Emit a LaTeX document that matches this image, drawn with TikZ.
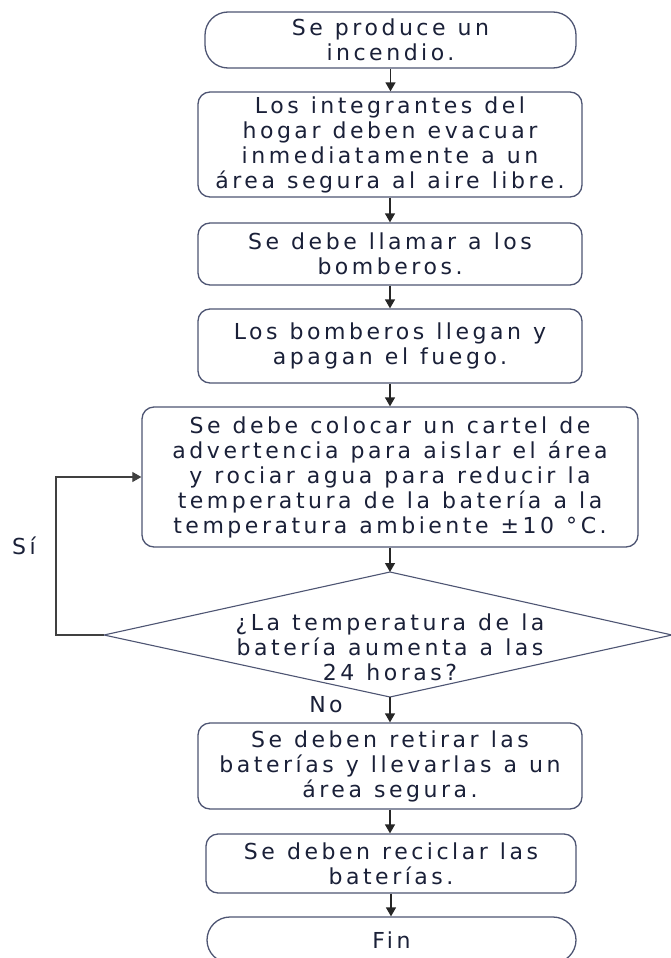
\documentclass[tikz,border=0pt]{standalone}
\usepackage{fontspec}
\setmainfont[LetterSpace=16,WordSpace=1.15]{DejaVu Sans}
\usetikzlibrary{arrows.meta,shapes.geometric}
\definecolor{txt}{HTML}{1A2038}
\definecolor{edge}{HTML}{4E5573}
\tikzset{
  every node/.style={font=\fontsize{22}{25}\selectfont, text=txt},
  procbox/.style={draw=edge, line width=1.3pt, rounded corners=12pt, align=center, inner sep=0pt},
  termbox/.style={draw=edge, line width=1.3pt, rounded corners=23pt, align=center, inner sep=0pt},
  arr/.style={draw=black!85, line width=1.3pt, -{Triangle[length=9pt,width=10pt]}},
  loopline/.style={draw=black!75, line width=1.1pt, -{Triangle[length=9pt,width=10pt]}},
}
\begin{document}
\begin{tikzpicture}[x=1pt,y=-1pt]
\useasboundingbox (0,0) rectangle (670,958);
\fill[white] (0,0) rectangle (670,958);

\node[termbox, minimum width=371pt, minimum height=56pt] (t1) at (390.5,40) {Se produce un\\incendio.};
\node[procbox, minimum width=384pt, minimum height=105pt] (b2) at (390,144.5) {Los integrantes del\\hogar deben evacuar\\inmediatamente a un\\área segura al aire libre.};
\node[procbox, minimum width=384pt, minimum height=62pt] (b3) at (390,254) {Se debe llamar a los\\bomberos.};
\node[procbox, minimum width=384pt, minimum height=74pt] (b4) at (390,346) {Los bomberos llegan y\\apagan el fuego.};
\node[procbox, minimum width=496pt, minimum height=140pt] (b5) at (390,477) {Se debe colocar un cartel de\\advertencia para aislar el área\\y rociar agua para reducir la\\temperatura de la batería a la\\temperatura ambiente ±10 °C.};

\coordinate (dtop) at (390,572);
\coordinate (dleft) at (104,635);
\coordinate (dbot) at (390,697);
\coordinate (dright) at (672,635);
\draw[edge, line width=1.1pt] (dtop) -- (dright) -- (dbot) -- (dleft) -- cycle;
\node[align=center, inner sep=0pt] (dq) at (390,647) {¿La temperatura de la\\batería aumenta a las\\24 horas?};

\node[procbox, minimum width=384pt, minimum height=86pt] (b6) at (390,766) {Se deben retirar las\\baterías y llevarlas a un\\área segura.};
\node[procbox, minimum width=370pt, minimum height=59pt] (b7) at (391,863.5) {Se deben reciclar las\\baterías.};
\node[termbox, minimum width=369pt, minimum height=46pt] (fin) at (391.5,940) {Fin};

\node[inner sep=0pt] (no) at (326,705) {No};
\node[inner sep=0pt] (si) at (24,546) {Sí};

\draw[arr] (t1.south) -- (t1.south |- b2.north);
\draw[arr] (b2.south) -- (b2.south |- b3.north);
\draw[arr] (b3.south) -- (b3.south |- b4.north);
\draw[arr] (b4.south) -- (b4.south |- b5.north);
\draw[arr] (b5.south) -- (dtop);
\draw[arr] (dbot) -- (dbot |- b6.north);
\draw[arr] (b6.south) -- (b6.south |- b7.north);
\draw[arr] (b7.south) -- (b7.south |- fin.north);
\coordinate (lp) at (56,635);
\draw[loopline] (dleft) -- (lp) |- (b5.west);
\end{tikzpicture}
\end{document}
